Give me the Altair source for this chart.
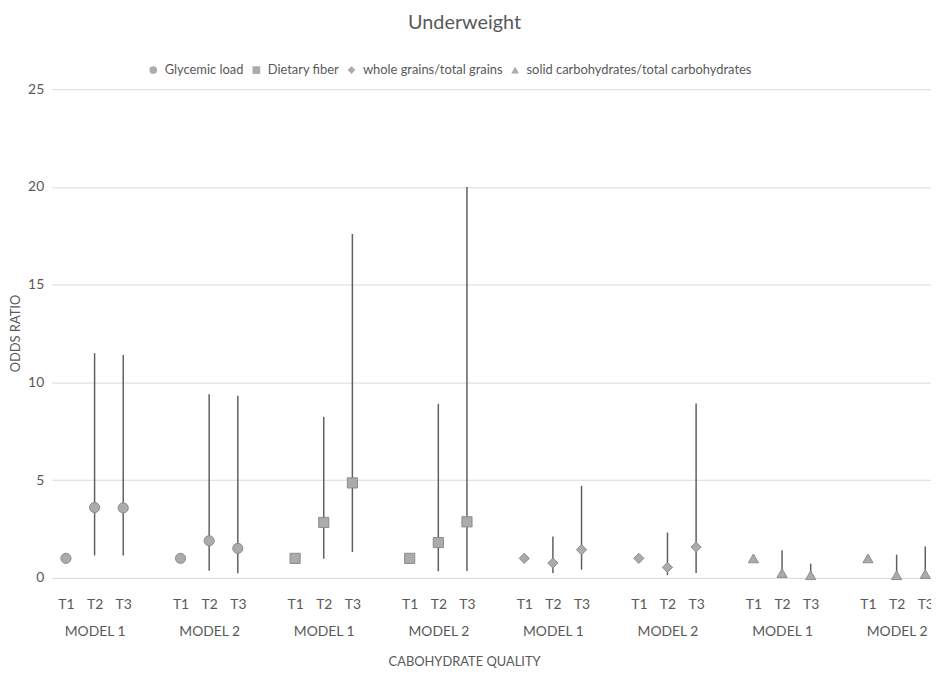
import json
import altair as alt
import pandas as pd

# ---- data ----
measures = ["Glycemic load", "Dietary fiber", "whole grains/total grains",
            "solid carbohydrates/total carbohydrates"]
models = ["MODEL 1", "MODEL 2"]
terciles = ["T1", "T2", "T3"]

# odds ratios per (measure, model) block, T1..T3
odds = [
    [1.0, 3.60, 3.58], [1.0, 1.90, 1.51],   # Glycemic load
    [1.0, 2.84, 4.86], [1.0, 1.81, 2.87],   # Dietary fiber
    [1.0, 0.76, 1.44], [1.0, 0.54, 1.58],   # whole grains/total grains
    [1.0, 0.25, 0.14], [1.0, 0.14, 0.20],   # solid carbs/total carbs
]
lower = [
    [None, 1.15, 1.15], [None, 0.37, 0.24],
    [None, 0.98, 1.32], [None, 0.34, 0.35],
    [None, 0.25, 0.42], [None, 0.14, 0.25],
    [None, 0.05, 0.02], [None, 0.02, 0.03],
]
upper = [
    [None, 11.5, 11.4], [None, 9.40, 9.32],
    [None, 8.24, 17.59], [None, 8.90, 20.0],
    [None, 2.12, 4.71], [None, 2.32, 8.92],
    [None, 1.41, 0.73], [None, 1.19, 1.61],
]
y_ticks = [0, 5, 10, 15, 20, 25]

rows = []
for b in range(8):
    for t in range(3):
        rows.append({
            "measure": measures[b // 2],
            "model": models[b % 2],
            "tercile": terciles[t],
            "slot": b * 4 + t,
            "or": odds[b][t],
            "lo": lower[b][t],
            "hi": upper[b][t],
        })
df = pd.DataFrame(rows)
tick_vals = [b * 4 + t for b in range(8) for t in range(3)]

TXT = "#595959"
FONT = "Lato"

label_expr = (
    "(datum.value % 4 == 1) ? [{terc}[1], {mods}[floor(datum.value / 4) % 2]] "
    ": {terc}[datum.value % 4]"
).format(terc=json.dumps(terciles), mods=json.dumps(models))

x_scale = alt.Scale(domain=[-0.5, 30.2], nice=False, zero=False)
y_scale = alt.Scale(domain=[0, 25], nice=False)

x_axis = alt.Axis(
    values=tick_vals, labelExpr=label_expr, grid=False, domain=False,
    ticks=False, labelOverlap=False, labelFlush=False, labelBound=False,
    labelPadding=20, labelLineHeight=27, labelFontSize=14, labelColor=TXT,
    labelFont=FONT, labelBaseline="top",
    title="CABOHYDRATE QUALITY", titleFont=FONT, titleFontSize=13,
    titleFontWeight="normal", titleColor=TXT, titleX=416, titleY=88,
    titleAnchor="start", titleAlign="center", titleBaseline="alphabetic",
)

y_axis = alt.Axis(
    values=y_ticks, grid=True, gridColor="#d9d9d9", gridWidth=1,
    domain=False, ticks=False, labelPadding=8, labelFontSize=14,
    labelColor=TXT, labelFont=FONT,
    title="ODDS RATIO", titleFont=FONT, titleFontSize=13,
    titleFontWeight="normal", titleColor=TXT, titleAngle=270,
    titleX=-36, titleY=246, titleAlign="center", titleBaseline="middle",
    titleAnchor="start",
)

x_enc = alt.X("slot:Q", scale=x_scale, axis=x_axis)

bars = alt.Chart(df).transform_filter("isValid(datum.lo)").mark_rule(
    color="#5f5f5f", strokeWidth=1.5
).encode(
    x=x_enc,
    y=alt.Y("lo:Q", scale=y_scale, axis=y_axis),
    y2="hi:Q",
)

points = alt.Chart(df).mark_point(
    filled=True, fill="#ababab", stroke="#8c8c8c", strokeWidth=1, opacity=1, size=105
).encode(
    x=x_enc,
    y=alt.Y("or:Q", scale=y_scale, axis=y_axis),
    shape=alt.Shape(
        "measure:N",
        scale=alt.Scale(domain=measures,
                        range=["circle", "square", "diamond", "triangle-up"]),
        legend=alt.Legend(
            title=None, orient="none", direction="horizontal",
            legendX=96, legendY=-26, symbolSize=60,
            symbolFillColor="#ababab", symbolStrokeColor="#8c8c8c",
            symbolStrokeWidth=1, labelFontSize=13, labelColor=TXT,
            labelFont=FONT, columnPadding=6, labelOffset=5, labelLimit=400,
        ),
    ),
)

chart = alt.layer(bars, points).properties(
    width=887, height=493,
    padding={"left": 44, "top": 79, "right": 0, "bottom": 88},
    autosize=alt.AutoSizeParams(type="none"),
    title=alt.TitleParams(
        "Underweight", fontSize=20, color=TXT, font=FONT, fontWeight="normal",
        anchor="middle", dx=-27, offset=31, frame="group",
    ),
).configure_view(stroke=None)

chart.save("out.html", embed_options={"renderer": "svg", "actions": False})
